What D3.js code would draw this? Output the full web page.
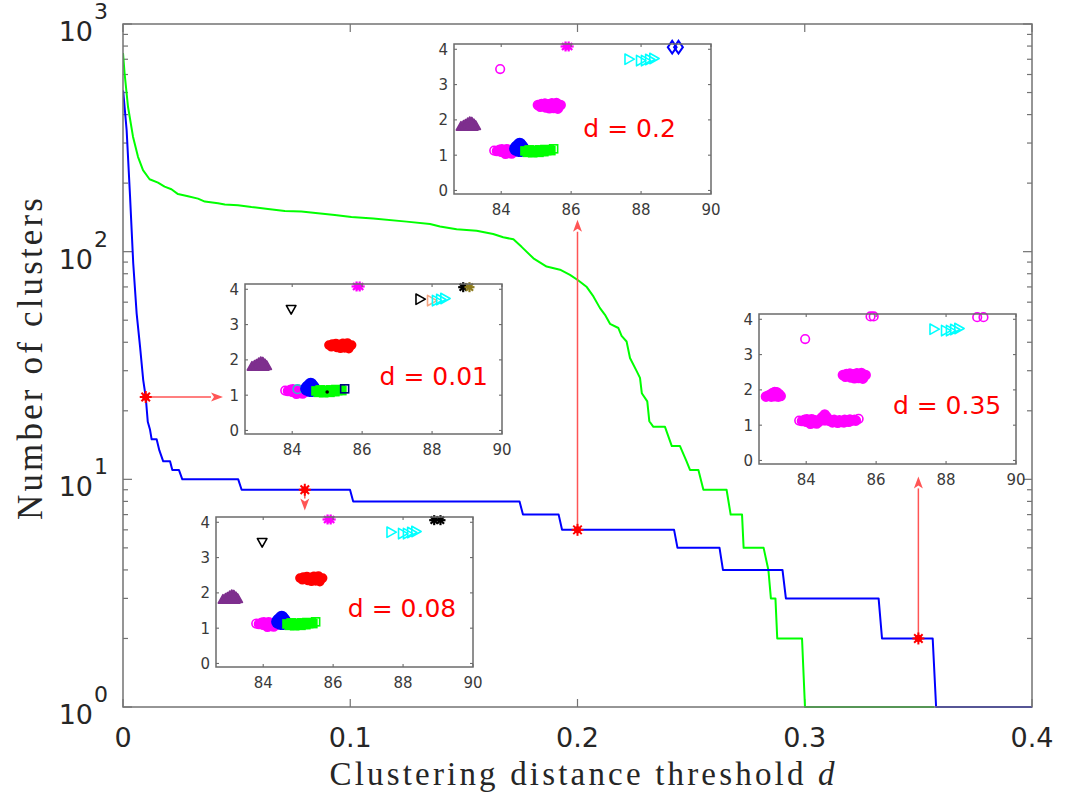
<!DOCTYPE html>
<html>
<head>
<meta charset="utf-8">
<script src="https://cdn.jsdelivr.net/npm/d3@7"></script>
<style>
  body { margin: 0; background: #fff; }
  svg { display: block; }
</style>
</head>
<body>
<svg id="chart" width="1067" height="798"></svg>
<script>
// ---- number of clusters vs. clustering distance threshold d ----
const greenCurve = [
  [0, 745], [0.0007, 607], [0.0022, 433], [0.0044, 320], [0.0066, 261], [0.0088, 228],
  [0.0117, 208], [0.0154, 201], [0.0183, 193], [0.0213, 188], [0.0242, 179], [0.0286, 175],
  [0.033, 171], [0.036, 166], [0.0418, 163], [0.0448, 161], [0.0506, 160], [0.0565, 157],
  [0.0638, 154], [0.0712, 151], [0.0785, 150], [0.0858, 147.5], [0.0932, 145], [0.1005, 142],
  [0.1101, 140], [0.1248, 135.5], [0.1351, 132.4], [0.1395, 129], [0.1468, 125.4], [0.1556, 123.6],
  [0.1629, 119.6], [0.1673, 115.7], [0.1718, 113.3], [0.1754, 105], [0.1806, 93.5], [0.1864, 86],
  [0.1923, 83.3], [0.1967, 79.1], [0.2004, 74.7], [0.2041, 69.9], [0.207, 63.6], [0.2099, 56.5],
  [0.2121, 52.8], [0.2143, 48.2], [0.218, 46.2], [0.2194, 42.7], [0.2216, 40.3], [0.2231, 34.1],
  [0.2261, 29.8], [0.2275, 27.9], [0.2283, 23.9], [0.2307, 22], [0.2316, 18], [0.2334, 17],
  [0.2385, 17], [0.2415, 14], [0.2451, 14], [0.248, 12], [0.2495, 11], [0.2532, 11],
  [0.2554, 9], [0.2656, 9], [0.2674, 7], [0.2724, 7], [0.2731, 5], [0.2819, 5],
  [0.284, 4], [0.2851, 3], [0.2871, 3], [0.2879, 2], [0.2988, 2], [0.3001, 1], [0.357, 1]
];
const blueCurve = [
  [0, 510], [0.0001, 505], [0.0016, 342], [0.0031, 175], [0.0045, 89], [0.006, 53.6],
  [0.0075, 38.3], [0.0089, 27.3], [0.01, 23], [0.0109, 17.9], [0.0119, 16.5], [0.0126, 15],
  [0.0148, 15], [0.016, 13.4], [0.0177, 12], [0.0207, 12], [0.0217, 11], [0.0246, 11],
  [0.0261, 10], [0.0507, 10], [0.0522, 9], [0.0999, 9], [0.1013, 8], [0.1745, 8],
  [0.176, 7], [0.1917, 7], [0.1932, 6], [0.2425, 6], [0.244, 5], [0.2625, 5],
  [0.264, 4], [0.2902, 4], [0.2917, 3], [0.3325, 3], [0.334, 2], [0.3563, 2],
  [0.3578, 1], [0.4, 1]
];

const xTicks = [0, 0.1, 0.2, 0.3, 0.4];
const xTickLabels = ["0", "0.1", "0.2", "0.3", "0.4"];
const yTicks = [1, 10, 100, 1000];
const yTickExponents = ["0", "1", "2", "3"];

// selected thresholds on the blue curve, and where each arrow points
const picks = [
  { d: 0.01, n: 23, toD: 0.044, toN: 23 },
  { d: 0.08, n: 9,  toD: 0.08,  toN: 7.3 },
  { d: 0.2,  n: 6,  toD: 0.2,   toN: 138 },
  { d: 0.35, n: 2,  toD: 0.35,  toN: 10.3 }
];

// ---- scatter points shown in the inset panels ----
const mound = [[82.85,1.81],[82.92,1.84],[82.98,1.87],[83.04,1.91],[83.1,1.94],[83.16,1.93],
  [83.22,1.88],[83.27,1.83],[83.0,1.81],[83.1,1.82],[83.2,1.81],[83.07,1.87],[83.15,1.86]];
const lowEdge = [[83.8,1.13]];
const lowBlob = [[83.88,1.12],[83.95,1.15],[84.0,1.1],[84.05,1.14],[84.1,1.08],[84.15,1.12],
  [84.2,1.06],[84.25,1.1],[84.3,1.05],[84.35,1.09],[84.02,1.17],[84.2,1.15],[84.12,1.04],[84.28,1.13]];
const ring = [[84.15,1.17]];
const blueBlob = [[84.42,1.18],[84.48,1.24],[84.53,1.3],[84.58,1.24],[84.62,1.18],[84.5,1.14],
  [84.57,1.14],[84.45,1.22],[84.55,1.2]];
const greenBlob = [[84.68,1.12],[84.75,1.08],[84.82,1.1],[84.9,1.07],[85.0,1.1],[85.08,1.08],
  [85.15,1.11],[85.22,1.1],[85.3,1.13],[85.38,1.15],[84.8,1.15],[84.95,1.14],[85.1,1.15],
  [85.25,1.16],[85.42,1.13]];
const greenDot = [[85.0,1.09]];
const greenTail = [[85.5,1.18]];
const upperBlob = [[85.05,2.42],[85.12,2.37],[85.2,2.41],[85.28,2.35],[85.35,2.44],[85.42,2.38],
  [85.5,2.34],[85.58,2.48],[85.55,2.4],[85.64,2.37],[85.7,2.42],[85.25,2.46],[85.45,2.47],
  [85.62,2.32],[85.15,2.45],[85.38,2.33]];
const lone = [[83.97,3.44]];
const star = [[85.84,4.08],[85.93,4.08]];
const triA = [[87.65,3.72]];
const triB = [[87.98,3.68]];
const triC = [[88.12,3.68],[88.24,3.71],[88.36,3.74]];
const topA = [[88.89,4.06]];
const topB = [[89.07,4.06]];

const groups = { mound, lowEdge, lowBlob, ring, blueBlob, greenBlob, greenDot, greenTail,
  upperBlob, lone, star, triA, triB, triC, topA, topB };

const insetXTicks = [84, 86, 88, 90];
const insetYTicks = [0, 1, 2, 3, 4];

// cluster membership (group -> marker key) at each threshold
const clustersD001 = [["mound","purpleTri"],["lowEdge","magOpen"],["lowBlob","magFill"],["ring","tealRing"],
  ["blueBlob","blueFill"],["greenBlob","greenSq"],["greenDot","blackDot"],["greenTail","navySqOpen"],
  ["upperBlob","redFill"],["lone","blackTriDown"],["star","magStar"],["triA","blackTriR"],
  ["triB","peachTriR"],["triC","cyanTriR"],["topA","blackStar"],["topB","oliveStar"]];
const clustersD008 = [["mound","purpleTri"],["lowEdge","magOpen"],["lowBlob","magFill"],["ring","magFill"],
  ["blueBlob","blueFill"],["greenBlob","greenSq"],["greenDot","greenSq"],["greenTail","greenSqOpen"],
  ["upperBlob","redFill"],["lone","blackTriDown"],["star","magStar"],["triA","cyanTriR"],
  ["triB","cyanTriR"],["triC","cyanTriR"],["topA","blackStar"],["topB","blackStar"]];
const clustersD02 = [["mound","purpleTri"],["lowEdge","magOpen"],["lowBlob","magFill"],["ring","magFill"],
  ["blueBlob","blueFill"],["greenBlob","greenSq"],["greenDot","greenSq"],["greenTail","greenSqOpen"],
  ["upperBlob","magFill"],["lone","magOpen"],["star","magStar"],["triA","cyanTriR"],
  ["triB","cyanTriR"],["triC","cyanTriR"],["topA","blueDiamond"],["topB","blueDiamond"]];
const clustersD035 = [["mound","magFill"],["lowEdge","magOpen"],["lowBlob","magFill"],["ring","magFill"],
  ["blueBlob","magFill"],["greenBlob","magFill"],["greenDot","magFill"],["greenTail","magOpen"],
  ["upperBlob","magFill"],["lone","magOpen"],["star","magOpen"],["triA","cyanTriR"],
  ["triB","cyanTriR"],["triC","cyanTriR"],["topA","magOpen"],["topB","magOpen"]];

// ---- styles ----
const markerStyles = {
  purpleTri:   { shape: "triUp",    color: "#7e2f8e", fill: true,  r: 5 },
  magOpen:     { shape: "circle",   color: "#ff00ff", fill: false, r: 4.3 },
  magFill:     { shape: "circle",   color: "#ff00ff", fill: true,  r: 4.5 },
  tealRing:    { shape: "circle",   color: "#2bc4c4", fill: false, r: 4.3 },
  blueFill:    { shape: "circle",   color: "#0000ff", fill: true,  r: 6 },
  greenSq:     { shape: "square",   color: "#00ff00", fill: true,  r: 4 },
  greenSqOpen: { shape: "square",   color: "#00ff00", fill: false, r: 4 },
  navySqOpen:  { shape: "square",   color: "#000080", fill: false, r: 4 },
  blackDot:    { shape: "circle",   color: "#000000", fill: true,  r: 1 },
  redFill:     { shape: "circle",   color: "#ff0000", fill: true,  r: 4 },
  blackTriDown:{ shape: "triDown",  color: "#000000", fill: false, r: 5 },
  magStar:     { shape: "asterisk", color: "#ff00ff", fill: false, r: 5 },
  blackTriR:   { shape: "triRight", color: "#000000", fill: false, r: 5.5 },
  peachTriR:   { shape: "triRight", color: "#f4a582", fill: false, r: 5.5 },
  cyanTriR:    { shape: "triRight", color: "#00ffff", fill: false, r: 5.5 },
  blackStar:   { shape: "asterisk", color: "#000000", fill: false, r: 5 },
  oliveStar:   { shape: "asterisk", color: "#8c7b1e", fill: false, r: 5 },
  blueDiamond: { shape: "diamond",  color: "#0000ff", fill: false, r: 5.5 }
};

const insets = [
  { label: "d = 0.2",  left: 454, top: 44,  labelAt: [86.35, 1.52], clusters: clustersD02 },
  { label: "d = 0.01", left: 245, top: 284, labelAt: [86.5, 1.28],  clusters: clustersD001 },
  { label: "d = 0.08", left: 216, top: 517, labelAt: [86.42, 1.32], clusters: clustersD008 },
  { label: "d = 0.35", left: 759, top: 314, labelAt: [86.48, 1.32], clusters: clustersD035 }
];
const insetW = 257, insetH = 150;

const axisGray = "#737373";
const textGray = "#262626";
const numFont = "DejaVu Sans, Liberation Sans, sans-serif";
const serifFont = "Liberation Serif, DejaVu Serif, serif";

// ---- main axes ----
const svg = d3.select("#chart");
const margin = { left: 123, right: 1032, top: 24, bottom: 707 };
const x = d3.scaleLinear().domain([0, 0.4]).range([margin.left, margin.right]);
const y = d3.scaleLog().domain([1, 1000]).range([margin.bottom, margin.top]);

svg.append("rect").attr("width", 1067).attr("height", 798).attr("fill", "#fff");

svg.append("defs").append("clipPath").attr("id", "plotClip")
  .append("rect")
  .attr("x", margin.left).attr("y", margin.top - 1)
  .attr("width", margin.right - margin.left).attr("height", margin.bottom - margin.top + 2);

// tick marks (inward, mirrored on all sides)
const ticks = svg.append("g").attr("stroke", axisGray).attr("stroke-width", 1.2);
xTicks.forEach(t => {
  ticks.append("line").attr("x1", x(t)).attr("x2", x(t)).attr("y1", margin.bottom).attr("y2", margin.bottom - 8);
  ticks.append("line").attr("x1", x(t)).attr("x2", x(t)).attr("y1", margin.top).attr("y2", margin.top + 8);
});
const yMinor = [];
for (let e = 0; e < 3; e++) for (let m = 2; m <= 9; m++) yMinor.push(m * Math.pow(10, e));
yTicks.forEach(t => {
  ticks.append("line").attr("x1", margin.left).attr("x2", margin.left + 9).attr("y1", y(t)).attr("y2", y(t));
  ticks.append("line").attr("x1", margin.right).attr("x2", margin.right - 9).attr("y1", y(t)).attr("y2", y(t));
});
yMinor.forEach(t => {
  ticks.append("line").attr("x1", margin.left).attr("x2", margin.left + 5).attr("y1", y(t)).attr("y2", y(t));
  ticks.append("line").attr("x1", margin.right).attr("x2", margin.right - 5).attr("y1", y(t)).attr("y2", y(t));
});

// tick labels
const xLab = svg.append("g").attr("font-family", numFont).attr("font-size", 27).attr("fill", textGray)
  .attr("text-anchor", "middle");
xTicks.forEach((t, i) => {
  xLab.append("text").attr("x", x(t)).attr("y", 747).text(xTickLabels[i]);
});
const yLab = svg.append("g").attr("font-family", numFont).attr("fill", textGray);
yTicks.forEach((t, i) => {
  yLab.append("text").attr("x", 93).attr("y", y(t) + 17).attr("font-size", 27)
    .attr("text-anchor", "end").text("10");
  yLab.append("text").attr("x", 94).attr("y", y(t) - 5).attr("font-size", 22)
    .attr("text-anchor", "start").text(yTickExponents[i]);
});

// axis titles
svg.append("text")
  .attr("x", 582).attr("y", 785)
  .attr("text-anchor", "middle")
  .attr("font-family", serifFont).attr("font-size", 33).attr("fill", textGray)
  .attr("textLength", 505).attr("lengthAdjust", "spacing")
  .call(t => {
    t.append("tspan").text("Clustering distance threshold ");
    t.append("tspan").attr("font-style", "italic").text("d");
  });
svg.append("text")
  .attr("transform", "translate(42,359) rotate(-90)")
  .attr("text-anchor", "middle")
  .attr("font-family", serifFont).attr("font-size", 35).attr("fill", textGray)
  .attr("textLength", 322).attr("lengthAdjust", "spacing")
  .text("Number of clusters");

// curves
const line = d3.line().x(d => x(d[0])).y(d => y(d[1]));
const curves = svg.append("g").attr("clip-path", "url(#plotClip)").attr("fill", "none")
  .attr("stroke-width", 2).attr("stroke-linejoin", "round");
curves.append("path").datum(greenCurve).attr("stroke", "#00ff00").attr("d", line);
curves.append("path").datum(blueCurve).attr("stroke", "#0000ff").attr("d", line);

// box
svg.append("rect")
  .attr("x", margin.left).attr("y", margin.top)
  .attr("width", margin.right - margin.left).attr("height", margin.bottom - margin.top)
  .attr("fill", "none").attr("stroke", axisGray).attr("stroke-width", 1.5);

// arrows from the picked thresholds to their inset panels
const arrowColor = "#ff5555";
const arrows = svg.append("g");
picks.forEach(p => {
  const x0 = x(p.d), y0 = y(p.n), x1 = x(p.toD), y1 = y(p.toN);
  const ang = Math.atan2(y1 - y0, x1 - x0);
  const len = 12, half = 4.5;
  const bx = x1 - len * Math.cos(ang), by = y1 - len * Math.sin(ang);
  arrows.append("line").attr("x1", x0).attr("y1", y0).attr("x2", bx).attr("y2", by)
    .attr("stroke", arrowColor).attr("stroke-width", 1.5);
  const px = -Math.sin(ang) * half, py = Math.cos(ang) * half;
  const mx = x1 - 0.75 * len * Math.cos(ang), my = y1 - 0.75 * len * Math.sin(ang);
  arrows.append("path")
    .attr("d", `M${x1},${y1}L${bx + px},${by + py}L${mx},${my}L${bx - px},${by - py}Z`)
    .attr("fill", arrowColor);
});

// red asterisk markers on the blue curve
picks.forEach(p => {
  const g = svg.append("g").attr("transform", `translate(${x(p.d)},${y(p.n)})`);
  g.append("circle").attr("r", 3.6).attr("fill", "#ff0000");
  [0, 45, 90, 135].forEach(a => {
    const r = 6, rad = a * Math.PI / 180;
    g.append("line")
      .attr("x1", -r * Math.cos(rad)).attr("y1", -r * Math.sin(rad))
      .attr("x2", r * Math.cos(rad)).attr("y2", r * Math.sin(rad))
      .attr("stroke", "#ff0000").attr("stroke-width", 2);
  });
});

// ---- inset panels ----
function drawMarker(g, shape, r, color, fill) {
  const sw = 1.6;
  const fillColor = fill ? color : "none";
  if (shape === "circle") {
    g.append("circle").attr("r", r).attr("fill", fillColor).attr("stroke", color).attr("stroke-width", sw);
  } else if (shape === "square") {
    g.append("rect").attr("x", -r).attr("y", -r).attr("width", 2 * r).attr("height", 2 * r)
      .attr("fill", fillColor).attr("stroke", color).attr("stroke-width", sw);
  } else if (shape === "diamond") {
    g.append("path").attr("d", `M0,${-r * 1.15}L${r * 0.8},0L0,${r * 1.15}L${-r * 0.8},0Z`)
      .attr("fill", fillColor).attr("stroke", color).attr("stroke-width", 2);
  } else if (shape === "asterisk") {
    [0, 45, 90, 135].forEach(a => {
      const rad = a * Math.PI / 180;
      g.append("line")
        .attr("x1", -r * Math.cos(rad)).attr("y1", -r * Math.sin(rad))
        .attr("x2", r * Math.cos(rad)).attr("y2", r * Math.sin(rad))
        .attr("stroke", color).attr("stroke-width", 2.2);
    });
  } else {
    const rot = { triUp: 0, triRight: 90, triDown: 180 }[shape];
    g.append("path")
      .attr("d", `M0,${-r}L${r * 0.95},${r * 0.7}L${-r * 0.95},${r * 0.7}Z`)
      .attr("transform", `rotate(${rot})`)
      .attr("fill", fillColor).attr("stroke", color).attr("stroke-width", sw)
      .attr("stroke-linejoin", "round");
  }
}

insets.forEach(ins => {
  const ix = d3.scaleLinear().domain([82.65, 90]).range([ins.left, ins.left + insetW]);
  const iy = d3.scaleLinear().domain([-0.1, 4.15]).range([ins.top + insetH, ins.top]);
  const g = svg.append("g");

  g.append("rect").attr("x", ins.left).attr("y", ins.top).attr("width", insetW).attr("height", insetH)
    .attr("fill", "#fff");

  // points, cluster by cluster
  ins.clusters.forEach(([name, key]) => {
    const st = markerStyles[key];
    groups[name].forEach(pt => {
      const m = g.append("g").attr("transform", `translate(${ix(pt[0])},${iy(pt[1])})`);
      drawMarker(m, st.shape, st.r, st.color, st.fill);
    });
  });

  // box + mirrored inward ticks
  const tg = g.append("g").attr("stroke", "#6b6b6b").attr("stroke-width", 1.1);
  insetXTicks.forEach(t => {
    tg.append("line").attr("x1", ix(t)).attr("x2", ix(t)).attr("y1", ins.top + insetH).attr("y2", ins.top + insetH - 3);
    tg.append("line").attr("x1", ix(t)).attr("x2", ix(t)).attr("y1", ins.top).attr("y2", ins.top + 3);
  });
  insetYTicks.forEach(t => {
    tg.append("line").attr("x1", ins.left).attr("x2", ins.left + 3).attr("y1", iy(t)).attr("y2", iy(t));
    tg.append("line").attr("x1", ins.left + insetW).attr("x2", ins.left + insetW - 3).attr("y1", iy(t)).attr("y2", iy(t));
  });
  g.append("rect").attr("x", ins.left).attr("y", ins.top).attr("width", insetW).attr("height", insetH)
    .attr("fill", "none").attr("stroke", "#6b6b6b").attr("stroke-width", 1.5);

  const lg = g.append("g").attr("font-family", numFont).attr("font-size", 15).attr("fill", "#3a3a3a");
  insetXTicks.forEach(t => {
    lg.append("text").attr("x", ix(t)).attr("y", ins.top + insetH + 21).attr("text-anchor", "middle").text(t);
  });
  insetYTicks.forEach(t => {
    lg.append("text").attr("x", ins.left - 6).attr("y", iy(t) + 5.5).attr("text-anchor", "end").text(t);
  });

  g.append("text")
    .attr("x", ix(ins.labelAt[0])).attr("y", iy(ins.labelAt[1]))
    .attr("font-family", numFont).attr("font-size", 25).attr("fill", "#ff0000")
    .attr("xml:space", "preserve")
    .text(ins.label);
});
</script>
</body>
</html>
